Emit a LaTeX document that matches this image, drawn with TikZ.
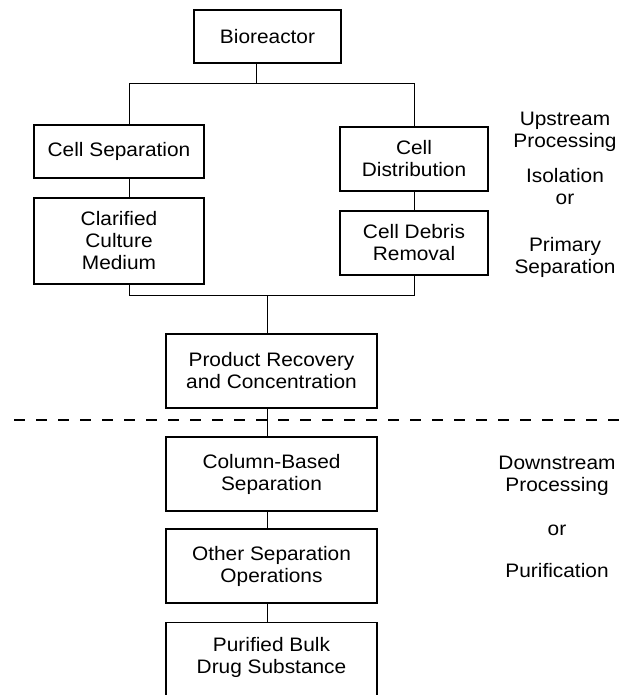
\documentclass[tikz,border=0pt]{standalone}
\usepackage{fontspec}
\setmainfont{Liberation Sans}[FakeStretch=1.07]
\begin{document}
\begin{tikzpicture}[x=1pt,y=-1pt,
  txt/.style={align=center, inner sep=0pt, font=\fontsize{19.5}{22}\selectfont},
  box/.style={txt, draw, line width=1.2pt},
  link/.style={line width=1pt}]
\useasboundingbox (0,0) rectangle (627,695);
% boxes
\node[box, minimum width=147pt, minimum height=53pt] (bio) at (267.5,36.5) {Bioreactor};
\node[box, minimum width=170pt, minimum height=53pt] (cs) at (119,151.5) {Cell Separation};
\node[box, minimum width=170pt, minimum height=86pt] (cm) at (119,241) {Clarified\\Culture\\Medium};
\node[box, minimum width=148pt, minimum height=64pt] (cd) at (414,159) {Cell\\Distribution};
\node[box, minimum width=148pt, minimum height=64pt] (db) at (414,243) {Cell Debris\\Removal};
\node[box, minimum width=211pt, minimum height=74pt] (pr) at (271.5,371) {Product Recovery\\and Concentration};
\node[box, minimum width=211pt, minimum height=74pt] (col) at (271.5,474) {Column-Based\\Separation};
\node[box, minimum width=211pt, minimum height=74pt] (oth) at (271.5,566) {Other Separation\\Operations};
\node[box, minimum width=211pt, minimum height=100pt, anchor=north] (pu) at (271.5,622) {};
\node[txt] (put) at (271.5,657) {Purified Bulk\\Drug Substance};
% side labels
\node[txt] (up1) at (565,131.5) {Upstream\\Processing};
\node[txt] (up2) at (565,187) {Isolation\\or};
\node[txt] (up3) at (565,257) {Primary\\Separation};
\node[txt] (dn1) at (557,476) {Downstream\\Processing};
\node[txt] (dn2) at (557,530) {or};
\node[txt] (dn3) at (557,571) {Purification};
% junction coordinates
\coordinate (jt) at (256,84);
\coordinate (jl) at (129,84);
\coordinate (jr) at (414,84);
\coordinate (bl) at (129,295);
\coordinate (br) at (414,295);
\coordinate (bm) at (267,295);
\coordinate (dl) at (14,420);
\coordinate (dr) at (627,420);
% connectors
\draw[link] (bio.south -| jt) -- (jt);
\draw[link] (cs.north -| jl) -- (jl) -- (jr) -- (cd.north);
\draw[link] (cs.south -| jl) -- (cm.north -| jl);
\draw[link] (cd.south) -- (db.north);
\draw[link] (cm.south -| bl) -- (bl) -- (br) -- (db.south);
\draw[link] (bm) -- (pr.north -| bm);
\draw[link] (pr.south -| bm) -- (col.north -| bm);
\draw[link] (col.south -| bm) -- (oth.north -| bm);
\draw[link] (oth.south -| bm) -- (pu.north -| bm);
% dashed divider
\draw[line width=1.2pt, dash pattern=on 11pt off 11pt] (dl) -- (dr);
\end{tikzpicture}
\end{document}
